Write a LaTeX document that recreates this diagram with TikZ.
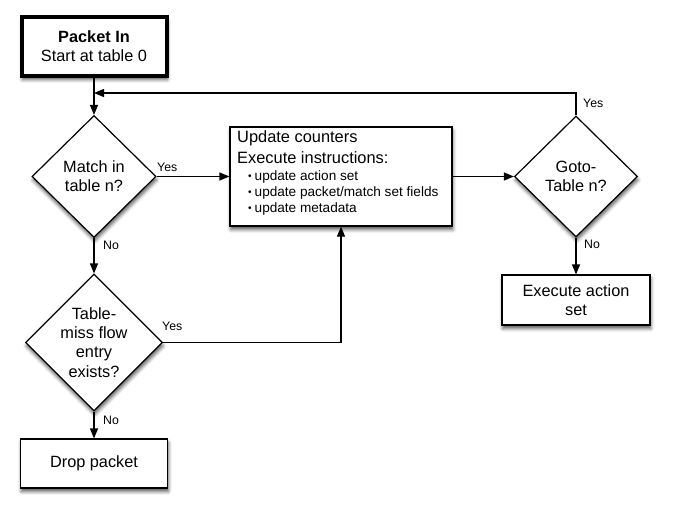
\documentclass[tikz,border=0pt]{standalone}
\usepackage{fontspec}
\setmainfont{Liberation Sans}
\usetikzlibrary{arrows.meta,shapes.geometric,shadows.blur}
\newcommand{\smbul}{\raisebox{0.8pt}{\fontsize{10}{10}\selectfont•}\hspace{3pt}}
\begin{document}
\begin{tikzpicture}[x=1pt,y=1pt,
  shad/.style={blur shadow={shadow xshift=0.8pt,shadow yshift=-3.5pt,shadow blur radius=3.5pt,shadow opacity=65}},
  box/.style={draw, line width=1.2pt, fill=white, rectangle, inner sep=0pt, align=center, font=\fontsize{16.3}{19.3}\selectfont, shad},
  dec/.style={draw, line width=1.2pt, fill=white, diamond, inner sep=0pt, align=center, font=\fontsize{16.3}{19.3}\selectfont, shad},
  conn/.style={line width=1.2pt, -{Triangle[length=10pt,width=8pt]}},
  lbl/.style={inner sep=0pt, font=\fontsize{12.3}{14}\selectfont, anchor=base west},
  txt/.style={inner sep=0pt, anchor=base west}
]
\useasboundingbox (0,0) rectangle (685,-517);

% nodes
\node[box, line width=4pt, minimum width=145pt, minimum height=59pt] (start) at (94,-46.5)
  {\textbf{Packet In}\\Start at table 0};
\node[dec, minimum width=124pt, minimum height=122pt] (match) at (94,-176.5) {Match in\\table n?};
\node[box, minimum width=222pt, minimum height=99pt] (upd) at (341,-176.5) {};
\node[txt, font=\fontsize{16.4}{19}\selectfont] (u1) at (237,-142) {Update counters};
\node[txt, font=\fontsize{16.4}{19}\selectfont] (u2) at (237,-163) {Execute instructions:};
\node[txt, font=\fontsize{13.6}{16}\selectfont] (u3) at (248,-180) {\smbul update action set};
\node[txt, font=\fontsize{13.6}{16}\selectfont] (u4) at (248,-196) {\smbul update packet/match set fields};
\node[txt, font=\fontsize{13.6}{16}\selectfont] (u5) at (248,-212) {\smbul update metadata};
\node[dec, minimum width=123pt, minimum height=121pt] (goto) at (576,-176.5) {Goto-\\Table n?};
\node[box, minimum width=148pt, minimum height=50pt] (exec) at (576,-300) {Execute action\\set};
\node[dec, minimum width=137pt, minimum height=135pt] (tm) at (94,-342.5) {Table-\\miss flow\\entry\\exists?};
\node[box, minimum width=147pt, minimum height=49pt] (drop) at (94,-463.5) {Drop packet};
\coordinate (j) at (94,-93);

% connectors
\draw[conn] (start.south) -- (match.north);
\draw[conn] (goto.north) |- (j);
\draw[conn] (match.east) -- (upd.west);
\draw[conn] (match.south) -- (tm.north);
\draw[conn] (upd.east) -- (goto.west);
\draw[conn] (goto.south) -- (exec.north);
\draw[conn] (tm.east) -| (upd.south);
\draw[conn] (tm.south) -- (drop.north);

% labels
\node[lbl] (y1) at (157,-171) {Yes};
\node[lbl] (y2) at (162,-330.7) {Yes};
\node[lbl] (y3) at (583,-107) {Yes};
\node[lbl] (n1) at (103,-249) {No};
\node[lbl] (n2) at (584,-248) {No};
\node[lbl] (n3) at (103,-424) {No};
\end{tikzpicture}
\end{document}
